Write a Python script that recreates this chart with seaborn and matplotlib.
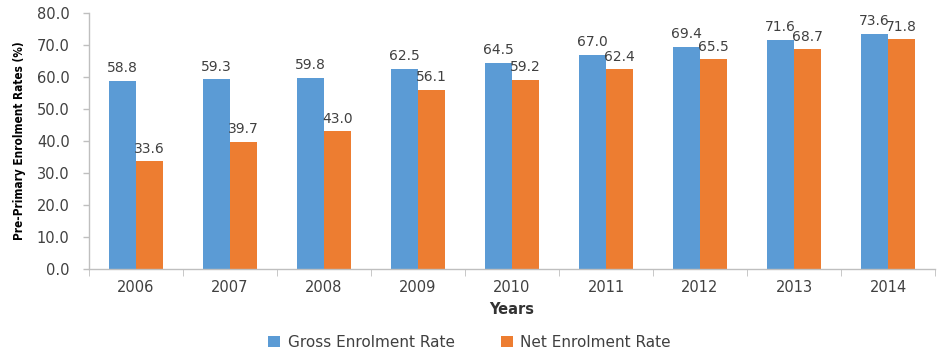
import matplotlib
matplotlib.use("Agg")
import matplotlib.pyplot as plt
import seaborn as sns
import pandas as pd

years = ["2006", "2007", "2008", "2009", "2010", "2011", "2012", "2013", "2014"]
gross_rate = [58.8, 59.3, 59.8, 62.5, 64.5, 67.0, 69.4, 71.6, 73.6]
net_rate = [33.6, 39.7, 43.0, 56.1, 59.2, 62.4, 65.5, 68.7, 71.8]
series_names = ["Gross Enrolment Rate", "Net Enrolment Rate"]
y_ticks = [0, 10, 20, 30, 40, 50, 60, 70, 80]

df = pd.DataFrame({
    "Year": years * 2,
    "Rate": gross_rate + net_rate,
    "Series": [series_names[0]] * len(years) + [series_names[1]] * len(years),
})

sns.set_style("white")
plt.rcParams["font.family"] = ["DejaVu Sans"]

fig = plt.figure(figsize=(9.39, 3.53), dpi=100)
ax = fig.add_axes([0.0948, 0.238, 0.901, 0.725])

palette = {series_names[0]: "#5B9BD5", series_names[1]: "#ED7D31"}
sns.barplot(data=df, x="Year", y="Rate", hue="Series", palette=palette,
            width=0.57, gap=0, saturation=1, linewidth=0, ax=ax, legend=True)

text_col = "#404040"
for container in ax.containers:
    ax.bar_label(container, fmt="%.1f", padding=4, fontsize=10, color=text_col)

ax.set_ylim(0, 80)
ax.set_xlim(-0.5, len(years) - 0.5)
ax.set_yticks(y_ticks)
ax.set_yticklabels([f"{v:.1f}" for v in y_ticks], fontsize=10.5, color=text_col)
ax.tick_params(axis="x", labelsize=10.5, labelcolor=text_col, length=0, pad=8)
ax.tick_params(axis="y", length=4, color="#BFBFBF", width=1, left=True, pad=10)
ax.set_xticks([i + 0.5 for i in range(-1, len(years))], minor=True)
ax.tick_params(axis="x", which="minor", length=5, color="#BFBFBF", bottom=True)

for side in ["top", "right"]:
    ax.spines[side].set_visible(False)
for side in ["left", "bottom"]:
    ax.spines[side].set_color("#BFBFBF")
    ax.spines[side].set_linewidth(1)

ax.set_xlabel("Years", fontsize=10.5, fontweight="bold", color="#333333", labelpad=5)
ax.set_ylabel("Pre-Primary Enrolment Rates (%)", fontsize=8.5, fontweight="bold",
              color="#000000", fontstretch="condensed", labelpad=8)

handles, labels = ax.get_legend_handles_labels()
ax.legend_.remove()
fig.legend(handles, labels, loc="center", bbox_to_anchor=(0.5, 0.03), ncol=2,
           frameon=False, fontsize=11, handlelength=0.8, handleheight=0.8,
           columnspacing=3.0, handletextpad=0.5, labelcolor=text_col)

fig.savefig("out.png", dpi=100)
